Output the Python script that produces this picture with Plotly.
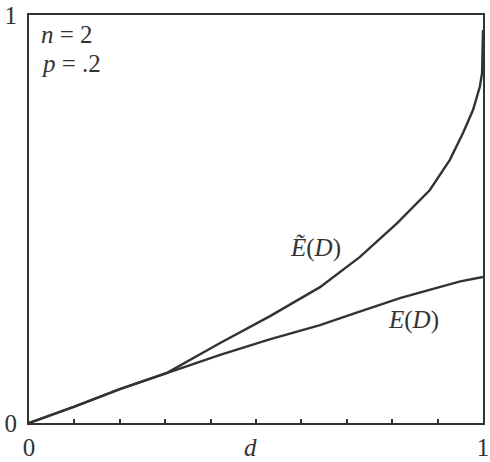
import plotly.graph_objects as go

# Data
d_upper = [0, 0.1, 0.2, 0.304, 0.421, 0.531, 0.641, 0.729, 0.811, 0.883, 0.927, 0.956, 0.978, 0.993, 0.998, 1.0]
e_tilde = [0, 0.04, 0.083, 0.123, 0.196, 0.262, 0.333, 0.407, 0.490, 0.571, 0.645, 0.711, 0.767, 0.824, 0.858, 0.963]

d_lower = [0, 0.1, 0.2, 0.304, 0.421, 0.53, 0.641, 0.72, 0.817, 0.9, 0.95, 1.0]
e_vals = [0, 0.04, 0.083, 0.123, 0.167, 0.205, 0.240, 0.270, 0.306, 0.332, 0.347, 0.358]

x_tickvals = [0, 0.1, 0.2, 0.3, 0.4, 0.5, 0.6, 0.7, 0.8, 0.9, 1.0]
x_ticktext = ["0", "", "", "", "", "", "", "", "", "", "1"]
y_tickvals = [0, 1]
y_ticktext = ["0", "1"]

INK = "#333333"
FONT = "Liberation Serif"
FS = 25

fig = go.Figure()
fig.add_trace(go.Scatter(x=d_upper, y=e_tilde, mode="lines",
                         line=dict(color=INK, width=2.4), showlegend=False))
fig.add_trace(go.Scatter(x=d_lower, y=e_vals, mode="lines",
                         line=dict(color=INK, width=2.4), showlegend=False))

fig.update_layout(
    width=490, height=462,
    margin=dict(l=29, r=7, t=15, b=39),
    paper_bgcolor="white", plot_bgcolor="white",
    font=dict(family=FONT, size=FS, color=INK),
    xaxis=dict(range=[0, 1], tickvals=x_tickvals, ticktext=x_ticktext,
               ticks="inside", ticklen=4, tickwidth=1.5, tickcolor=INK,
               showline=True, linecolor=INK, linewidth=2, mirror=True,
               showgrid=False, zeroline=False, ticklabelstandoff=1,
               automargin=False),
    yaxis=dict(range=[0, 1], tickvals=y_tickvals, ticktext=y_ticktext,
               ticks="", showline=True, linecolor=INK, linewidth=2, mirror=True,
               showgrid=False, zeroline=False, ticklabelstandoff=5,
               automargin=False),
)

annos = [
    dict(text="<i>n</i> = 2", x=0.022, y=0.952),
    dict(text="<i>p</i> = .2", x=0.022, y=0.882),
]
for a in annos:
    fig.add_annotation(text=a["text"], x=a["x"], y=a["y"], xref="paper", yref="paper",
                       xanchor="left", yanchor="middle", showarrow=False,
                       font=dict(family=FONT, size=FS, color=INK))

fig.add_annotation(text="<i>Ẽ</i>(<i>D</i>)", x=0.632, y=0.43, xref="x", yref="y",
                   showarrow=False, font=dict(family=FONT, size=FS, color=INK))
fig.add_annotation(text="<i>E</i>(<i>D</i>)", x=0.846, y=0.252, xref="x", yref="y",
                   showarrow=False, font=dict(family=FONT, size=FS, color=INK))
fig.add_annotation(text="<i>d</i>", x=0.487, y=-0.06, xref="paper", yref="paper",
                   yanchor="middle", showarrow=False,
                   font=dict(family=FONT, size=FS, color=INK))

fig.write_html("out.html", config={"displayModeBar": False},
               post_script="document.body.style.margin='0px';document.body.style.overflow='hidden';")
